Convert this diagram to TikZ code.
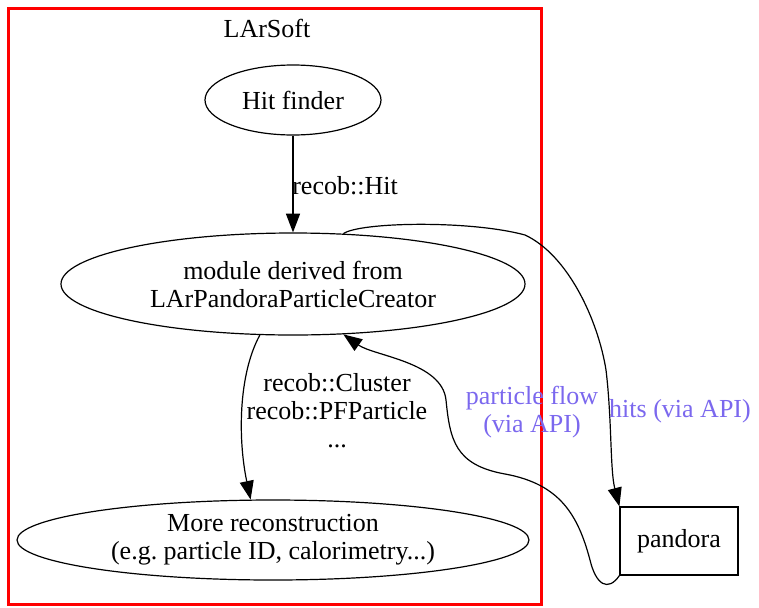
\documentclass[tikz,border=0pt]{standalone}
\usepackage{fontspec}
\setmainfont{Liberation Serif}
\usetikzlibrary{shapes,arrows.meta}
\definecolor{apiblue}{RGB}{123,104,238}
\frenchspacing

\begin{document}
\begin{tikzpicture}[x=0.75pt, y=-0.75pt,
  font=\fontsize{19.5}{21}\selectfont,
  every node/.style={inner sep=0pt, align=center},
  blob/.style={draw, ellipse, line width=0.9pt},
  box/.style={draw, rectangle, line width=0.9pt},
  flow/.style={line width=0.9pt, -{Triangle[length=14pt,width=10.5pt]}},
  api/.style={text=apiblue}]
\useasboundingbox (0,0) rectangle (759,607);

% LArSoft cluster
\draw[red, line width=2.25pt] (8,8) rectangle (541,604);
\node (larsoft) at (267,28) {LArSoft};

\node[blob, minimum width=132pt, minimum height=52.5pt] (hitfinder) at (293,100) {Hit finder};
\node[blob, minimum width=348pt, minimum height=76.5pt] (module) at (293,284) {module derived from\\LArPandoraParticleCreator};
\node[blob, minimum width=384pt, minimum height=60pt] (more) at (273,540) {More reconstruction\\(e.g. particle ID, calorimetry...)};
\node[box, minimum width=88.5pt, minimum height=51pt] (pandora) at (679,541) {pandora};

% edges inside LArSoft
\draw[flow] (hitfinder) -- (module);
\node (hitlabel) at (345,186) {recob::Hit};
\draw[flow] (module.-123) .. controls (238,375) and (238,440) .. (more.119);
\node (recolabel) at (337,411) {recob::Cluster\\recob::PFParticle\\...};

% edges to and from pandora
\draw[flow] (module.45) .. controls (360,222) and (470,220) .. (525,235)
  .. controls (568,255) and (598,320) .. (606,370)
  .. controls (612,420) and (610,470) .. (pandora.north west);
\node[api] (hitslabel) at (680,411) {hits (via API)};
\draw[flow] (pandora.south west) .. controls (608,592) and (596,585) .. (590,560)
  .. controls (578,515) and (560,484) .. (505,474)
  .. controls (455,465) and (450,440) .. (446,400)
  .. controls (442,362) and (374,356) .. (module.-45);
\node[api] (pflabel) at (532,412) {particle flow\\(via API)};
\end{tikzpicture}
\end{document}
